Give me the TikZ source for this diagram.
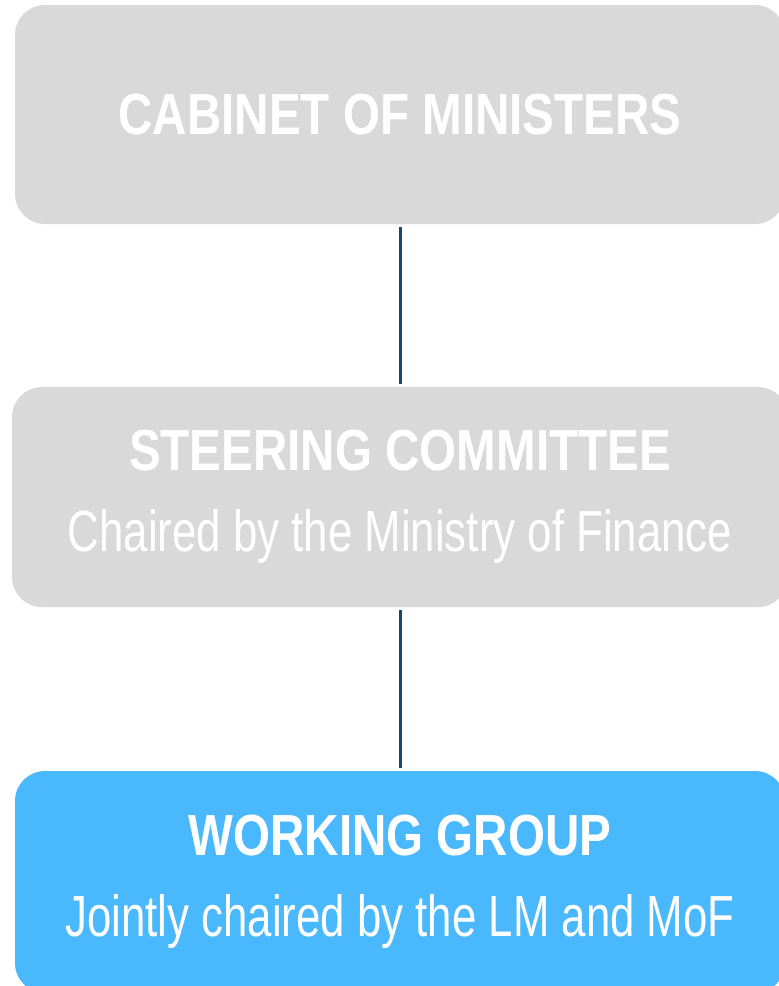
\documentclass[tikz,border=0pt]{standalone}
\usepackage{fontspec}
\setmainfont{Liberation Sans}
\newfontfamily\narrowfont[FakeStretch=0.82]{Liberation Sans}
\newfontfamily\subfont[FakeStretch=0.755]{Liberation Sans}
\usetikzlibrary{positioning}
\definecolor{boxGrey}{RGB}{217,217,217}
\definecolor{boxBlue}{RGB}{74,184,252}
\definecolor{linkNavy}{RGB}{22,72,108}
\tikzset{
    tier/.style={rectangle, fill=boxGrey, rounded corners=30pt,
                 minimum width=770pt, minimum height=219pt, inner sep=0pt,
                 text=white, align=center,
                 font=\narrowfont\fontsize{58}{81}\selectfont},
    tierBlue/.style={tier, fill=boxBlue},
    link/.style={draw, linkNavy, line width=3pt, shorten <=3pt, shorten >=3pt}
}

\begin{document}
\begin{tikzpicture}[x=1pt, y=-1pt]
  \useasboundingbox (0,0) rectangle (779,986);

  \node [tier] (CM) at (400,114.5) {\textbf{CABINET OF MINISTERS}};
  \node [tier, minimum width=776pt, minimum height=220pt] (SC) at (400,497)
        {\textbf{STEERING COMMITTEE}\\\subfont Chaired by the Ministry of Finance};
  \node [tierBlue, minimum height=222pt] (WG) at (400,882)
        {\textbf{WORKING GROUP}\\\subfont Jointly chaired by the LM and MoF};

  \draw[link] (CM) -- (SC);
  \draw[link] (SC) -- (WG);
\end{tikzpicture}
\end{document}
